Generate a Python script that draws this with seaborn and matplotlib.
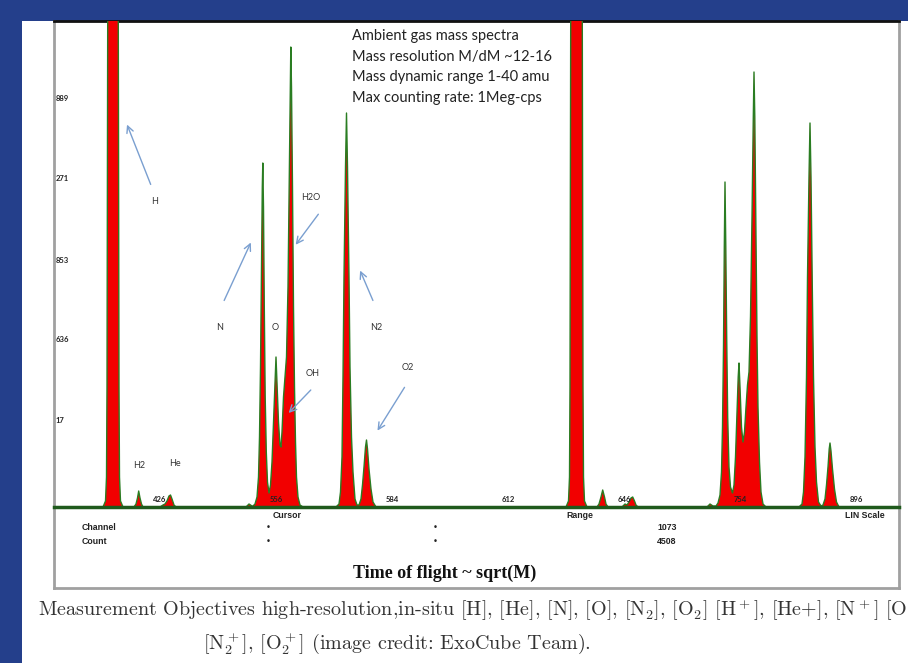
import numpy as np
import pandas as pd
import matplotlib
matplotlib.use("Agg")
import matplotlib.pyplot as plt
from matplotlib.patches import Rectangle
from matplotlib.ticker import FixedLocator, MultipleLocator
import seaborn as sns

# spectrum outline (channel, counts), one piece per peak group
base_start = ([10], [0])
h_x = [59, 61.5, 62.5, 63, 63.5, 64.5, 73.5, 74.5, 75, 75.5, 76.5, 79]
h_y = [0, 6, 30, 120, 380, 900, 900, 380, 120, 30, 6, 0]
h2_x = [90, 92, 93.5, 94.7, 96, 97.5, 99]
h2_y = [0, 3, 9, 16, 9, 3, 0]
he_x = [116, 119, 121, 123, 125, 126.5, 128, 130, 132]
he_y = [0, 2, 3, 6, 11, 12, 8, 2, 0]
bump1_x = [202, 205, 208]
bump1_y = [0, 3, 1]
atoms_x = [209, 211, 213, 214.5, 215.5, 216.5, 217.5, 218.3, 218.8, 219.5, 220.3, 221.2,
           222.3, 223.5, 225, 226.5, 228, 229.5, 231, 232, 233, 234.5, 236, 237, 238,
           239.5, 241, 242.5, 244, 245.3, 246.3, 246.8, 247.5, 248.5, 249.5, 250.5,
           251.5, 252.5, 254, 256, 259]
atoms_y = [1, 3, 10, 30, 70, 140, 240, 320, 344, 300, 200, 110,
           55, 25, 14, 22, 45, 85, 125, 150, 125, 85, 62, 60, 75,
           110, 130, 150, 220, 330, 420, 460, 420, 320, 200, 120,
           65, 30, 10, 2, 0]
n2_x = [292, 295, 296.5, 298, 299, 300, 301.5, 302.5, 303.5, 305, 306, 307.5, 309, 311, 313]
n2_y = [0, 3, 15, 50, 130, 230, 340, 394, 340, 230, 140, 70, 35, 8, 2]
o2_x = [315, 317, 318.5, 320, 321.5, 322.5, 323.5, 325, 327, 329, 332]
o2_y = [2, 8, 22, 40, 60, 67, 58, 38, 18, 5, 0]
hion_x = [522, 524.5, 525.5, 526, 526.5, 527.5, 537.5, 538.5, 539, 539.5, 540.5, 543]
hion_y = [0, 6, 30, 120, 380, 900, 900, 380, 120, 30, 6, 0]
h2ion_x = [553, 555, 557, 558.7, 560.5, 562, 564]
h2ion_y = [0, 3, 10, 17, 10, 3, 0]
heion_x = [578, 581, 583, 585, 587, 588.7, 590.5, 592, 594]
heion_y = [0, 3, 2, 5, 9, 10, 6, 2, 0]
bump2_x = [663, 666, 669]
bump2_y = [0, 3, 1]
ions_x = [672, 674, 676, 677.5, 678.5, 679.5, 680.3, 681, 681.8, 682.7, 683.7, 685,
          686.5, 688.5, 690, 691.5, 693, 694.2, 695, 696, 697.5, 699, 700.5, 702,
          703.5, 705, 706.5, 708, 709.3, 710, 710.8, 712, 713, 714, 715.5, 717, 719, 722]
ions_y = [1, 4, 12, 35, 80, 160, 260, 325, 260, 170, 90, 40,
          20, 14, 22, 50, 95, 130, 144, 120, 80, 65, 75, 100,
          122, 135, 190, 290, 390, 435, 390, 270, 170, 100, 45, 15, 3, 0]
n2ion_x = [755, 758, 759.5, 761, 762.5, 763.5, 765, 766, 767, 768.3, 769.5, 771, 772.5, 774.5, 777]
n2ion_y = [0, 3, 15, 50, 130, 230, 330, 384, 330, 220, 130, 60, 25, 5, 1]
o2ion_x = [779, 781, 782.5, 784, 785.2, 786, 787, 788.5, 790.5, 792.5, 795]
o2ion_y = [2, 8, 22, 40, 58, 64, 56, 38, 18, 5, 0]
base_end = ([855], [0])

# axis labels as printed on the instrument screen
xtick_pos = [116, 232, 348, 464, 580, 696, 812]
xtick_labels = ["426", "556", "584", "612", "646", "754", "896"]
ytick_pos = [87, 168, 247, 329, 409]
ytick_labels = ["17", "636", "853", "271", "889"]

info_lines = ["Ambient gas mass spectra",
              "Mass resolution M/dM ~12-16",
              "Mass dynamic range 1-40 amu",
              "Max counting rate: 1Meg-cps"]

# species labels: text position, arrow tail, arrow head (None = no arrow)
species = [
    ("H",   (111, 305), (107.7, 320), (82, 385)),
    ("H2",  (95, 41),   None, None),
    ("He",  (131, 43),  None, None),
    ("N",   (176, 180), (179, 204), (208, 267)),
    ("O",   (231, 179), None, None),
    ("H2O", (267, 309), (276, 295), (250, 260)),
    ("OH",  (269, 134), (268.7, 119), (242.7, 92)),
    ("N2",  (332, 180), (330, 204), (315, 239)),
    ("O2",  (364, 140), (362, 122), (332, 74)),
]

pieces = [base_start, (h_x, h_y), (h2_x, h2_y), (he_x, he_y), (bump1_x, bump1_y),
          (atoms_x, atoms_y), (n2_x, n2_y), (o2_x, o2_y), (hion_x, hion_y),
          (h2ion_x, h2ion_y), (heion_x, heion_y), (bump2_x, bump2_y),
          (ions_x, ions_y), (n2ion_x, n2ion_y), (o2ion_x, o2ion_y), base_end]
spectrum = pd.DataFrame({
    "channel": np.concatenate([p[0] for p in pieces]).astype(float),
    "counts": np.concatenate([p[1] for p in pieces]).astype(float),
})

sns.set_theme(style="white")
plt.rcParams['font.family'] = ['Lato', 'DejaVu Sans']
plt.rcParams['mathtext.fontset'] = 'cm'

W, H = 908, 663
BLUE = "#243f8b"
RED = "#f20000"
GREEN = "#2a7d22"

fig = plt.figure(figsize=(W / 100, H / 100), dpi=100, facecolor=BLUE)


def fx(px):
    return px / W


def fy(py):
    return 1 - py / H


# white slide area
fig.patches.append(Rectangle((fx(22), 0), 1 - fx(22), fy(21), transform=fig.transFigure,
                             facecolor="white", edgecolor="none", zorder=-5))

# outer box of the screenshot
frame = fig.add_axes([fx(54), fy(588), fx(899) - fx(54), fy(21) - fy(588)], zorder=1)
frame.set_xticks([])
frame.set_yticks([])
frame.set_facecolor("white")
for side in ["left", "right", "bottom"]:
    frame.spines[side].set_color("#a0a0a0")
    frame.spines[side].set_linewidth(2)
frame.spines["top"].set_color("#111111")
frame.spines["top"].set_linewidth(2)

# spectrum
ax = fig.add_axes([fx(54), fy(507), fx(899) - fx(54), fy(21) - fy(507)], zorder=2)
ax.set_facecolor("none")
ax.set_axisbelow(False)
ax.fill_between(spectrum["channel"], spectrum["counts"], color=RED, lw=0)
sns.lineplot(data=spectrum, x="channel", y="counts", color=GREEN, lw=1.0,
             estimator=None, sort=False, ax=ax)
ax.set_xlim(10, 855)
ax.set_ylim(0, 486)
ax.set_xlabel("")
ax.set_ylabel("")
for side in ["left", "right", "top"]:
    ax.spines[side].set_visible(False)
ax.spines["bottom"].set_color("#1f5a1c")
ax.spines["bottom"].set_linewidth(2.5)

ax.xaxis.set_major_locator(FixedLocator(xtick_pos))
ax.set_xticklabels(xtick_labels)
ax.xaxis.set_minor_locator(MultipleLocator(11.6))
ax.tick_params(axis="x", which="major", direction="in", length=5, width=1,
               color="#4d7bb8", pad=-3, labelsize=5.5, labelcolor="#222222")
ax.tick_params(axis="x", which="minor", direction="in", length=3, width=0.8, color="#2f6b2f")
for lab in ax.get_xticklabels():
    lab.set_verticalalignment("bottom")
    lab.set_fontweight("bold")

ax.set_yticks(ytick_pos)
ax.set_yticklabels(ytick_labels)
ax.tick_params(axis="y", length=0, pad=-1, labelsize=5.5, labelcolor="#222222")
for lab in ax.get_yticklabels():
    lab.set_horizontalalignment("left")
    lab.set_fontweight("bold")

for name, txt, tail, head in species:
    ax.text(txt[0], txt[1], name, fontsize=6.5, color="#333333", ha="center", va="center")
    if tail is not None:
        ax.annotate("", xy=head, xytext=tail,
                    arrowprops=dict(arrowstyle="->", color="#7a9fd0", lw=1.0))

for i, line in enumerate(info_lines):
    fig.text(fx(352), fy(36 + 20.6 * i), line, fontsize=10.5, color="#222222",
             va="center", zorder=3)

# status panel under the spectrum
small = dict(fontsize=6.3, fontweight="bold", color="#222222", va="center",
             family=["Liberation Sans", "DejaVu Sans"], zorder=3)
fig.text(fx(287), fy(515), "Cursor", ha="center", **small)
fig.text(fx(580), fy(515), "Range", ha="center", **small)
fig.text(fx(865), fy(515), "LIN Scale", ha="center", **small)
fig.text(fx(82), fy(527), "Channel", ha="left", **small)
fig.text(fx(82), fy(542), "Count", ha="left", **small)
for px in [268, 435]:
    fig.text(fx(px), fy(527), "\u2022", ha="center", **small)
    fig.text(fx(px), fy(542), "\u2022", ha="center", **small)
fig.text(fx(667), fy(527), "1073", ha="center", **small)
fig.text(fx(667), fy(542), "4508", ha="center", **small)

fig.text(fx(445), fy(573), "Time of flight ~ sqrt(M)", ha="center", va="center",
         fontsize=13, fontweight="bold", color="#111111",
         family=["Liberation Serif", "DejaVu Serif"], zorder=3)

cap = dict(fontsize=14.5, color="#333333", va="center", family=["cmr10", "DejaVu Serif"])
fig.text(fx(38), fy(610),
         r"Measurement Objectives high-resolution,in-situ [H], [He], [N], [O], "
         r"[$\mathrm{N}_2$], [$\mathrm{O}_2$] [$\mathrm{H}^+$], [He+], [$\mathrm{N}^+$] "
         r"[$\mathrm{O}^+$]", ha="left", **cap)
fig.text(fx(203), fy(643),
         r"[$\mathrm{N}_2^+$], [$\mathrm{O}_2^+$] (image credit: ExoCube Team).",
         ha="left", **cap)

fig.savefig("out.png", dpi=100, facecolor=fig.get_facecolor())
